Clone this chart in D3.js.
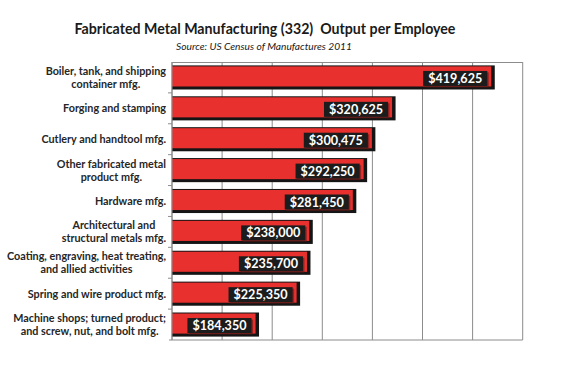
<!DOCTYPE html>
<html>
<head>
<meta charset="utf-8">
<script src="https://cdn.jsdelivr.net/npm/d3@7"></script>
<style>
  html, body { margin: 0; padding: 0; background: #fff; }
  svg { display: block; font-family: Lato, "Open Sans", sans-serif; }
</style>
</head>
<body>
<svg id="chart" width="580" height="368"></svg>
<script>
const categories = [
  ["Boiler, tank, and shipping", "container mfg."],
  ["Forging and stamping"],
  ["Cutlery and handtool mfg."],
  ["Other fabricated metal", "product mfg."],
  ["Hardware mfg."],
  ["Architectural and", "structural metals mfg."],
  ["Coating, engraving, heat treating,", "and allied activities"],
  ["Spring and wire product mfg."],
  ["Machine shops; turned product;", "and screw, nut, and bolt mfg."]
];
const values = [419625, 320625, 300475, 292250, 281450, 238000, 235700, 225350, 184350];
const valueLabels = ["$419,625", "$320,625", "$300,475", "$292,250", "$281,450", "$238,000", "$235,700", "$225,350", "$184,350"];
const xDomain = [100000, 450000];
const xTicks = [100000, 150000, 200000, 250000, 300000, 350000, 400000, 450000];
const title = "Fabricated Metal Manufacturing (332)  Output per Employee";
const subtitle = "Source: US Census of Manufactures 2011";

const svg = d3.select("#chart");
const margin = {left: 172, right: 57.3, top: 62, bottom: 28};
const W = 580, H = 368;
const x = d3.scaleLinear().domain(xDomain).range([margin.left, W - margin.right]);
const idx = d3.range(categories.length);
const y = d3.scaleBand().domain(idx).range([margin.top, H - margin.bottom]).paddingInner(0.22).paddingOuter(0.11);

// title
svg.append("text").attr("x", 265).attr("y", 34).attr("text-anchor", "middle")
  .attr("font-size", 14.2).attr("font-weight", 700).attr("fill", "#1a1a1a")
  .style("white-space", "pre").attr("xml:space", "preserve").text(title);
svg.append("text").attr("x", 264).attr("y", 50).attr("text-anchor", "middle")
  .attr("font-size", 10.2).attr("font-style", "italic").attr("font-weight", 400).attr("fill", "#1a1a1a").text(subtitle);

// gridlines
svg.append("g").selectAll("line").data(xTicks).join("line")
  .attr("x1", d => x(d)).attr("x2", d => x(d))
  .attr("y1", margin.top).attr("y2", H - margin.bottom)
  .attr("stroke", "#8c8c8c").attr("stroke-width", 1);
svg.append("line").attr("x1", margin.left).attr("x2", W - margin.right)
  .attr("y1", margin.top + 0.5).attr("y2", margin.top + 0.5).attr("stroke", "#8c8c8c");
svg.append("line").attr("x1", margin.left - 3).attr("x2", W - margin.right)
  .attr("y1", H - margin.bottom).attr("y2", H - margin.bottom).attr("stroke", "#8c8c8c");

// bars
const bars = svg.append("g").selectAll("g").data(idx).join("g");
bars.append("rect")
  .attr("x", margin.left).attr("y", i => y(i))
  .attr("width", i => x(values[i]) - margin.left + 2.5)
  .attr("height", y.bandwidth())
  .attr("fill", "#151515");
bars.append("rect")
  .attr("x", margin.left).attr("y", i => y(i) + 1)
  .attr("width", i => x(values[i]) - margin.left - 1)
  .attr("height", y.bandwidth() - 4)
  .attr("fill", "#e8312f");

// value labels
bars.each(function(i) {
  const g = d3.select(this);
  const t = g.append("text")
    .attr("x", x(values[i]) - 10).attr("y", y(i) + y.bandwidth() / 2 + 5.5)
    .attr("text-anchor", "end").attr("font-size", 12.6).attr("font-weight", 700)
    .attr("fill", "#ffffff").text(valueLabels[i]);
  const bb = t.node().getBBox();
  g.insert("rect", "text")
    .attr("x", bb.x - 5 + 1.5).attr("y", y(i) + y.bandwidth() / 2 - 6.5 + 1.5)
    .attr("width", bb.width + 10).attr("height", 15)
    .attr("fill", "#5a1a18").attr("opacity", 0.6);
  g.insert("rect", "text")
    .attr("x", bb.x - 5).attr("y", y(i) + y.bandwidth() / 2 - 6.5)
    .attr("width", bb.width + 10).attr("height", 15)
    .attr("fill", "#1c1c1c");
});

// y axis
svg.append("line").attr("x1", margin.left).attr("x2", margin.left)
  .attr("y1", margin.top).attr("y2", H - margin.bottom).attr("stroke", "#8c8c8c");
svg.append("g").selectAll("line").data(d3.range(1, categories.length)).join("line")
  .attr("x1", margin.left - 4).attr("x2", margin.left)
  .attr("y1", i => y(i) - y.step() * y.paddingInner() / 2)
  .attr("y2", i => y(i) - y.step() * y.paddingInner() / 2)
  .attr("stroke", "#8c8c8c");

const labels = svg.append("g").selectAll("g").data(idx).join("g");
labels.each(function(i) {
  const lines = categories[i];
  const cy = y(i) + y.bandwidth() / 2;
  const lh = 13;
  const g = d3.select(this);
  const ts = lines.map((s, k) => g.append("text")
      .attr("font-size", 10.8).attr("font-weight", 700).attr("fill", "#262626")
      .attr("text-anchor", "middle")
      .attr("y", cy + (k - (lines.length - 1) / 2) * lh + 4)
      .text(s));
  const maxW = d3.max(ts, t => t.node().getComputedTextLength());
  ts.forEach(t => t.attr("x", 166 - maxW / 2));
});
</script>
</body>
</html>
